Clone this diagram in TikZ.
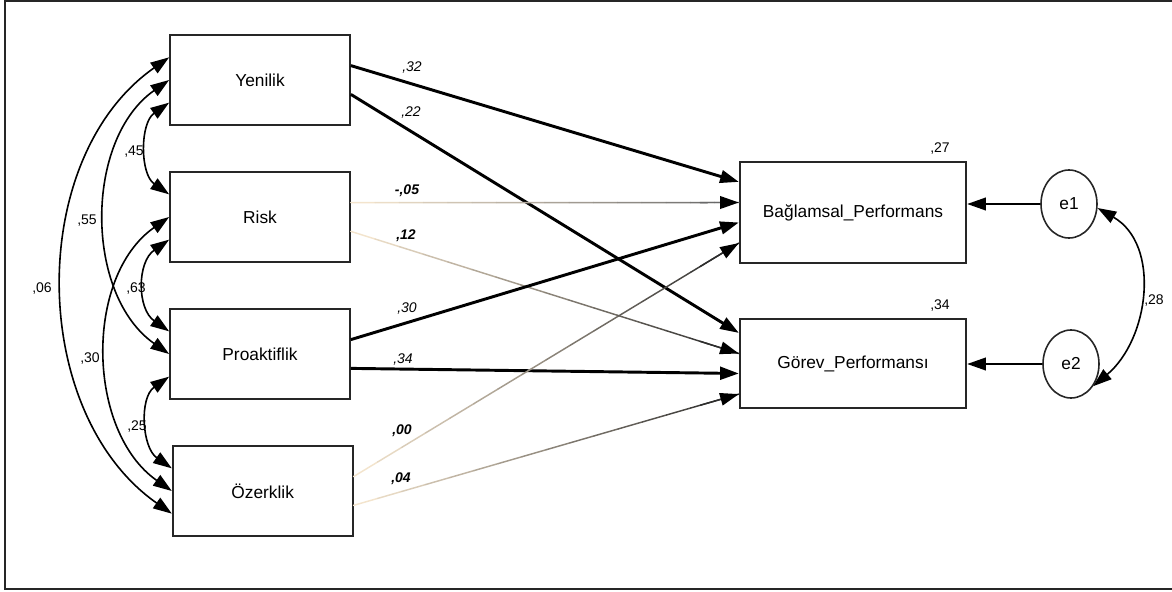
\documentclass[tikz,border=0pt]{standalone}
\usepackage{fontspec}
\setmainfont{Liberation Sans}
\usetikzlibrary{positioning,arrows.meta,calc,shapes.geometric}

\definecolor{pathtan}{RGB}{243,228,205}
\definecolor{pathgray}{RGB}{105,105,105}
\definecolor{pathdark}{RGB}{45,45,45}

% weak paths: light tan at the start, getting darker towards the head
\newcommand\fadepath[3]{%
  \foreach \k in {0,...,15}{%
    \pgfmathtruncatemacro\mixval{\k*100/15}%
    \draw[fade line, draw=#3!\mixval!pathtan] ($(#1)!{\k/16}!(#2)$) -- ($(#1)!{(\k+1)/16}!(#2)$);
  }%
  \draw[fade line, draw=#3, -{Triangle[length=14pt,width=9.5pt,color=black]}] ($(#1)!0.9!(#2)$) -- (#2);
}

\begin{document}
\begin{tikzpicture}[x=0.75pt, y=0.75pt, node distance=102.75pt,
  var node/.style={rectangle, draw=black!85, line width=1.3pt, minimum width=135pt, minimum height=67pt, inner sep=0pt, font=\fontsize{13}{15}\selectfont},
  out node/.style={var node, minimum width=170pt},
  err node/.style={ellipse, draw=black!85, line width=1.2pt, minimum width=42pt, minimum height=51pt, inner sep=0pt, font=\fontsize{13}{15}\selectfont},
  val/.style={inner sep=0pt, font=\fontsize{10.5}{12}\selectfont},
  coef/.style={inner sep=0pt, font=\fontsize{10.5}{12}\selectfont\itshape},
  bold coef/.style={inner sep=0pt, font=\fontsize{10.5}{12}\selectfont\bfseries\itshape},
  single head/.style={-{Triangle[length=14pt,width=9.5pt]}},
  path line/.style={single head, line width=2.2pt},
  err line/.style={single head, line width=1.3pt},
  cov line/.style={{Triangle[length=14pt,width=9.5pt]}-{Triangle[length=14pt,width=9.5pt]}, line width=1.2pt},
  fade line/.style={line width=1.1pt, line cap=round}]

  \useasboundingbox (0,0) rectangle (1172,-592);
  \draw[line width=1.4pt, black!85] (1172,-1) -- (5,-1) -- (5,-589) -- (1172,-589);

  % predictors
  \node[var node] (yen) at (260,-80) {Yenilik};
  \node[var node] (risk) [below of=yen] {Risk};
  \node[var node] (pro) [below of=risk] {Proaktiflik};
  \node[var node] (ozr) [below of=pro, xshift=2pt] {Özerklik};

  % outcomes and errors
  \node[out node, minimum height=76pt] (bag) at (853,-212.5) {Bağlamsal\_Performans};
  \node[out node] (gor) at (853,-363.5) {Görev\_Performansı};
  \node[err node] (e1) at (1069,-204) {e1};
  \node[err node] (e2) at (1071,-364) {e2};

  % paths
  \draw[path line] (yen.9) -- (bag.165);
  \draw[path line] (yen.-9) -- (gor.165);
  \fadepath{risk.9}{bag.175}{pathgray}
  \fadepath{risk.-9}{gor.175}{pathdark}
  \draw[path line] (pro.9) -- (bag.185);
  \draw[path line] (pro.-9) -- (gor.185);
  \fadepath{ozr.9}{bag.195}{pathdark}
  \fadepath{ozr.-9}{gor.195}{pathdark}

  \draw[err line] (e1.west) -- (e1.west -| bag.east);
  \draw[err line] (e2.west) -- (e2.west -| gor.east);

  % covariances
  \draw[cov line] (yen.194) to[out=215, in=145, looseness=1.0] (risk.166);
  \draw[cov line] (yen.west) to[out=215, in=145, looseness=0.97] (pro.west);
  \draw[cov line] (yen.166) to[out=215, in=145, looseness=0.98] (ozr.194);
  \draw[cov line] (risk.194) to[out=215, in=145, looseness=1.1] (pro.166);
  \draw[cov line] (risk.west) to[out=215, in=145, looseness=0.97] (ozr.west);
  \draw[cov line] (pro.194) to[out=215, in=145, looseness=1.02] (ozr.166);
  \draw[cov line] (e1.-8) to[out=-30, in=40, looseness=1.05] (e2.-45);

  % estimates
  \node[val] (c45) at (134,-152) {,45};
  \node[val] (c55) at (87,-221) {,55};
  \node[val] (c06) at (42,-289) {,06};
  \node[val] (c63) at (136,-289) {,63};
  \node[val] (c30) at (90,-359) {,30};
  \node[val] (c25) at (137,-427) {,25};
  \node[val] (c28) at (1154,-301) {,28};
  \node[val] (r27) at (940,-149) {,27};
  \node[val] (r34) at (940,-306) {,34};

  \node[coef] (b32) at (412,-68) {,32};
  \node[coef] (b22) at (411,-113) {,22};
  \node[bold coef] (b05) at (407,-191) {-,05};
  \node[bold coef] (b12) at (406,-236) {,12};
  \node[coef] (b30) at (407,-309) {,30};
  \node[coef] (b34) at (403,-360) {,34};
  \node[bold coef] (b00) at (402,-431) {,00};
  \node[bold coef] (b04) at (401,-479) {,04};
\end{tikzpicture}
\end{document}
